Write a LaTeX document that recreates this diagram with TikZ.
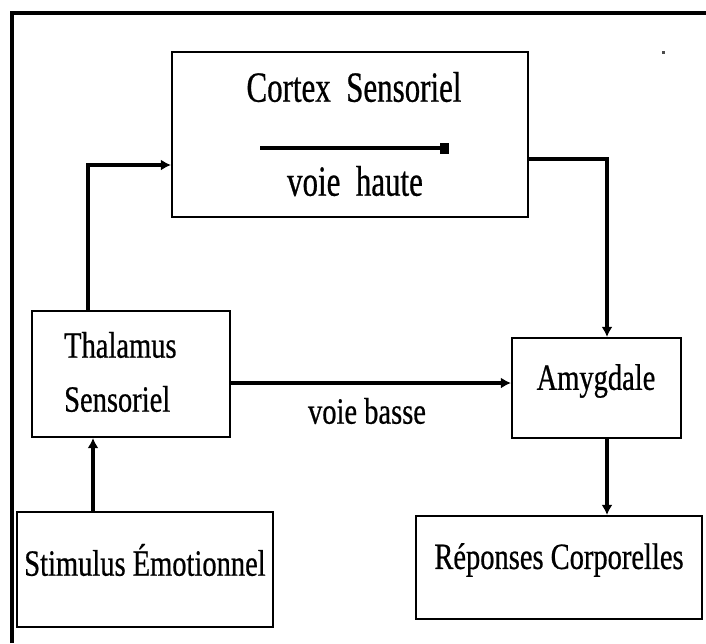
\documentclass[tikz,border=0pt]{standalone}
\usepackage{fontspec}
\setmainfont{Liberation Serif}
\newfontfamily\lblfont[FakeStretch=0.77,FakeBold=0.6]{Liberation Serif}
\newfontfamily\topfont[FakeStretch=0.72,FakeBold=0.6]{Liberation Serif}
\usetikzlibrary{arrows.meta}

\begin{document}
\begin{tikzpicture}[x=1pt,y=-1pt,
  box/.style={draw, line width=2.2pt, rectangle, inner sep=0pt},
  lbl/.style={inner sep=0pt, font=\fontsize{37}{44}\selectfont\lblfont},
  toplbl/.style={inner sep=0pt, font=\fontsize{43}{50}\selectfont\topfont},
  conn/.style={line width=3.4pt, -{Latex[length=10pt,width=11pt]}},
]
\useasboundingbox (0,0) rectangle (706,643);

% outer frame (open at the right and bottom)
\draw[line width=3.5pt] (12,643) -- (12,13) -- (706,13);
\fill[black!70] (662,51) rectangle (664.5,53.5);

% boxes
\node[box, minimum width=356pt, minimum height=165pt] (cortex) at (350,134.5) {};
\node[box, minimum width=198pt, minimum height=126pt] (thal)   at (131,374) {};
\node[box, minimum width=169pt, minimum height=100pt] (amyg)   at (596.5,388) {};
\node[box, minimum width=256pt, minimum height=115pt] (stim)   at (145,569.5) {};
\node[box, minimum width=286pt, minimum height=103pt] (rep)    at (559,567.5) {};

% labels
\node[toplbl] (tcortex) at (354,87) {Cortex\ \ Sensoriel};
\node[toplbl] (thaute)  at (355,181) {voie\ \ haute};
\node[lbl, anchor=west] (tthal1) at (64,345) {Thalamus};
\node[lbl, anchor=west] (tthal2) at (64,399) {Sensoriel};
\node[lbl] (tamyg)  at (596,381) {Amygdale};
\node[lbl] (tbasse) at (367,411) {voie basse};
\node[lbl] (tstim)  at (145,560) {Stimulus Émotionnel};
\node[lbl] (trep)   at (559,560) {Réponses Corporelles};

% arrow inside the cortex box
\coordinate (ha0) at (260,148);
\coordinate (ha1) at (449,148);
\draw[line width=3.4pt, -{Square[length=9pt,width=11pt]}] (ha0) -- (ha1);

% connectors
\draw[conn] ([xshift=-43pt]thal.north) |- ([yshift=-30.5pt]cortex.west);
\draw[conn] ([yshift=-24.5pt]cortex.east) -| ([xshift=10.5pt]amyg.north);
\draw[conn] ([yshift=-9pt]thal.east) -- ([yshift=5pt]amyg.west);
\draw[conn] ([xshift=-52pt]stim.north) -- ([xshift=-38pt]thal.south);
\draw[conn] ([xshift=10.5pt]amyg.south) -- ([xshift=48pt]rep.north);
\end{tikzpicture}
\end{document}
